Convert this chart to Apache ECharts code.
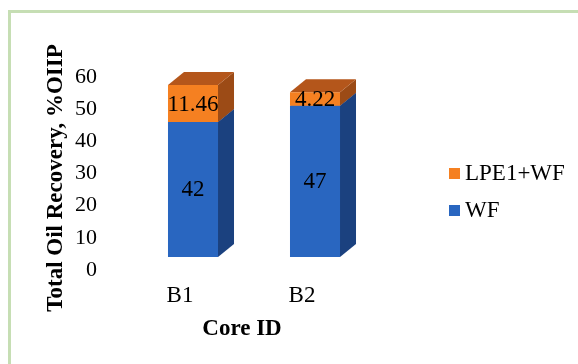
<!DOCTYPE html>
<html>
<head>
<meta charset="utf-8">
<script src="https://cdn.jsdelivr.net/npm/echarts@6/dist/echarts.min.js"></script>
<style>
  html, body { margin: 0; padding: 0; background: #fff; }
  #main { width: 578px; height: 364px; }
</style>
</head>
<body>
<div id="main"></div>
<script>
// 3D stacked bars, oil recovery per core

var categories = ['B1', 'B2'];
var wfValues = [42, 47];
var lpeValues = [11.46, 4.22];
var yTicks = [0, 10, 20, 30, 40, 50, 60];

var DX = 16, DY = 13;   // depth of the fake 3D box
var FONT = 'Liberation Serif';

var myChart = echarts.init(document.getElementById('main'));

// face colours: front, side, top
var wfColors = ['#2966c0', '#1b417f', '#2352a0'];
var lpeColors = ['#f58021', '#9c4b16', '#b4561b'];

function makeRender(colors) {
    return function (params, api) {
        var idx = api.value(0);
        var start = api.value(1);
        var end = api.value(2);
        var p0 = api.coord([idx, start]);
        var p1 = api.coord([idx, end]);
        var w = api.size([1, 0])[0] * 0.41;
        var x0 = p0[0] - w / 2, x1 = p0[0] + w / 2;
        var yb = p0[1], yt = p1[1];
        var val = Math.round((end - start) * 100) / 100;
        return {
            type: 'group',
            children: [
                {
                    type: 'polygon',
                    shape: { points: [[x1, yb], [x1 + DX, yb - DY], [x1 + DX, yt - DY], [x1, yt]] },
                    style: { fill: colors[1] }
                },
                {
                    type: 'polygon',
                    shape: { points: [[x0, yt], [x1, yt], [x1 + DX, yt - DY], [x0 + DX, yt - DY]] },
                    style: { fill: colors[2] }
                },
                {
                    type: 'rect',
                    shape: { x: x0, y: yt, width: w, height: yb - yt },
                    style: { fill: colors[0] }
                },
                {
                    type: 'text',
                    x: (x0 + x1) / 2,
                    y: (yb + yt) / 2 + 1,
                    style: {
                        text: String(val),
                        fill: '#000',
                        font: '23px "' + FONT + '"',
                        align: 'center',
                        verticalAlign: 'middle'
                    },
                    z2: 10
                }
            ]
        };
    };
}

var wfData = categories.map(function (c, i) { return [i, 0, wfValues[i]]; });
var lpeData = categories.map(function (c, i) { return [i, wfValues[i], wfValues[i] + lpeValues[i]]; });

var option = {
    backgroundColor: '#fff',
    animation: false,
    graphic: [{
        type: 'rect',
        shape: { x: 9.5, y: 11.5, width: 600, height: 400 },
        style: { fill: 'none', stroke: '#c6deb4', lineWidth: 3 },
        silent: true
    }],
    grid: { left: 132, top: 64, width: 244, height: 193 },
    legend: {
        orient: 'vertical',
        left: 444,
        top: 157,
        itemWidth: 11,
        itemHeight: 11,
        itemGap: 14,
        icon: 'rect',
        data: ['LPE1+WF', 'WF'],
        textStyle: { fontFamily: FONT, fontSize: 23, color: '#000' }
    },
    xAxis: {
        type: 'category',
        data: categories,
        axisLine: { show: false },
        axisTick: { show: false },
        axisLabel: {
            margin: 27,
            fontFamily: FONT, fontSize: 23, color: '#000',
            padding: [0, 26, 0, 0]
        },
        name: 'Core ID',
        nameLocation: 'middle',
        nameGap: 61,
        nameTextStyle: {
            fontFamily: FONT, fontSize: 23, fontWeight: 'bold', color: '#000',
            padding: [0, 24, 0, 0]
        }
    },
    yAxis: {
        type: 'value',
        min: yTicks[0],
        max: yTicks[yTicks.length - 1],
        interval: 10,
        axisLine: { show: false },
        axisTick: { show: false },
        splitLine: { show: false },
        axisLabel: {
            margin: 35,
            verticalAlign: 'top',
            padding: [2, 0, 0, 0],
            fontFamily: FONT, fontSize: 22, color: '#000'
        },
        name: 'Total Oil Recovery, %OIIP',
        nameLocation: 'middle',
        nameRotate: 90,
        nameGap: 64,
        nameTextStyle: {
            fontFamily: FONT, fontSize: 23, fontWeight: 'bold', color: '#000',
            padding: [0, 35, 0, 0]
        }
    },
    series: [
        {
            name: 'WF',
            type: 'custom',
            renderItem: makeRender(wfColors),
            itemStyle: { color: wfColors[0] },
            encode: { x: 0, y: [1, 2] },
            data: wfData
        },
        {
            name: 'LPE1+WF',
            type: 'custom',
            renderItem: makeRender(lpeColors),
            itemStyle: { color: lpeColors[0] },
            encode: { x: 0, y: [1, 2] },
            data: lpeData
        }
    ]
};

myChart.setOption(option);
</script>
</body>
</html>
